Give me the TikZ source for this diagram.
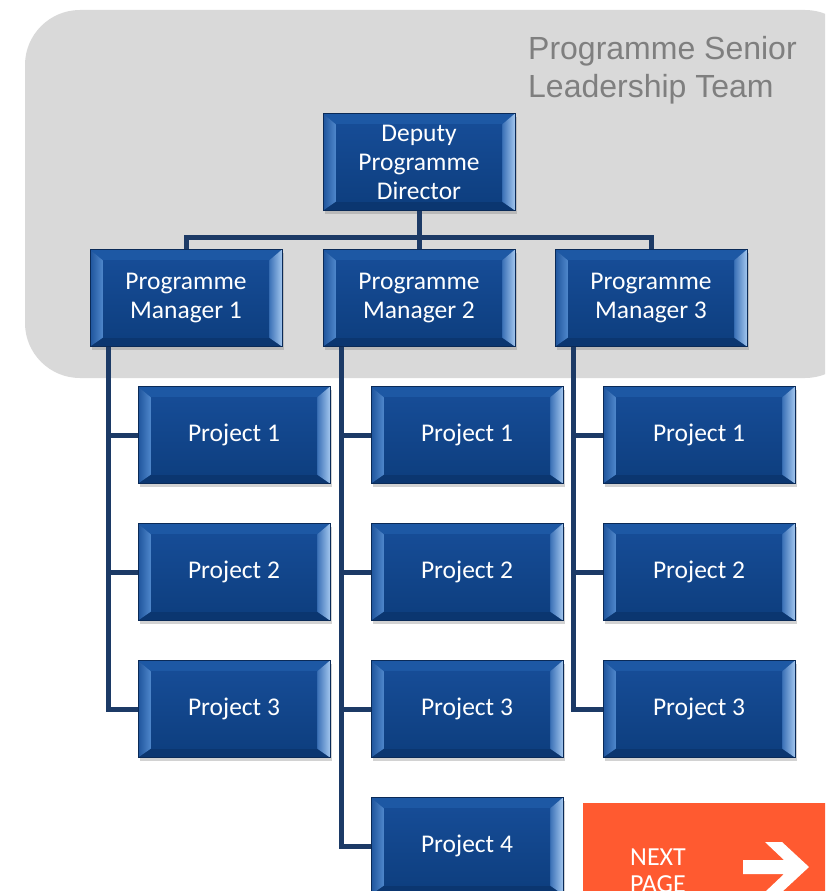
\documentclass[tikz,border=0pt]{standalone}
\usepackage{fontspec}
\usetikzlibrary{positioning,shadows}
\newfontfamily\boxfont{Carlito}
\newfontfamily\titlefont{Liberation Sans}

\definecolor{panelgray}{HTML}{D9D9D9}
\definecolor{titlegray}{HTML}{7F7F7F}
\definecolor{boxedge}{HTML}{0A2A57}
\definecolor{boxblue}{HTML}{114488}
\definecolor{facetop}{HTML}{164C96}
\definecolor{facebot}{HTML}{0E3F80}
\definecolor{bevtop}{HTML}{1D58A4}
\definecolor{bevbot}{HTML}{0B3670}
\definecolor{bevlout}{HTML}{1E549C}
\definecolor{bevlin}{HTML}{5088CC}
\definecolor{bevrin}{HTML}{3A70B6}
\definecolor{bevrout}{HTML}{A2C6EE}
\definecolor{linkblue}{HTML}{1C3A66}
\definecolor{nextorange}{HTML}{FF5A30}

\begin{document}
\begin{tikzpicture}[
x=1pt,y=-1pt,
unit/.style={
  draw=boxedge,
  line width=1pt,
  fill=boxblue,
  minimum width=192pt,
  minimum height=97pt,
  inner sep=0pt,
  align=center,
  text=white,
  font=\boxfont\fontsize{25.5}{29}\selectfont,
  drop shadow={shadow xshift=2pt,shadow yshift=-3pt,opacity=0.35},
  path picture={
    \path (path picture bounding box.north west) coordinate (bnw)
          (path picture bounding box.north east) coordinate (bne)
          (path picture bounding box.south west) coordinate (bsw)
          (path picture bounding box.south east) coordinate (bse);
    \path ([shift={(13pt,-11pt)}]bnw) coordinate (inw)
          ([shift={(-13pt,-11pt)}]bne) coordinate (ine)
          ([shift={(13pt,9pt)}]bsw) coordinate (isw)
          ([shift={(-13pt,9pt)}]bse) coordinate (ise);
    \fill[bevtop] (bnw) -- (bne) -- (ine) -- (inw) -- cycle;
    \fill[bevbot] (bsw) -- (bse) -- (ise) -- (isw) -- cycle;
    \shade[left color=bevlout,right color=bevlin] (bnw) -- (inw) -- (isw) -- (bsw) -- cycle;
    \shade[left color=bevrin,right color=bevrout] (bne) -- (ine) -- (ise) -- (bse) -- cycle;
    \shade[top color=facetop,bottom color=facebot] (inw) rectangle (ise);
  }
},
link/.style={
  draw=linkblue,
  line width=5pt
},
node distance=38pt and 40pt
]
\useasboundingbox (0,0) rectangle (825,891);
\clip (0,0) rectangle (825,891);
\fill[white] (0,0) rectangle (825,891);

% leadership panel
\fill[panelgray,rounded corners=55pt] (25,10) rectangle (860,378);
\node[anchor=north west,inner sep=0pt,align=left,text=titlegray,
  font=\titlefont\fontsize{32}{38.5}\selectfont] (slt) at (528,36)
  {Programme Senior\\Leadership Team};

% management
\node[unit] (dpd) at (419,162) {Deputy\\Programme\\Director};
\node[unit,below=of dpd] (pm2) {Programme\\Manager 2};
\node[unit,left=of pm2] (pm1) {Programme\\Manager 1};
\node[unit,right=39pt of pm2] (pm3) {Programme\\Manager 3};

\draw[link] (dpd.south) -- (pm2.north);
\draw[link] (dpd.south) -- ++(0,26) -| (pm1.north);
\draw[link] (dpd.south) -- ++(0,26) -| (pm3.north);

% projects
\foreach \col/\num in {1/3,2/4,3/3} {
  \node[unit,below=39pt of pm\col,xshift=48pt] (p\col1) {Project 1};
  \foreach \k [evaluate=\k as \j using int(\k-1)] in {2,...,\num}
    \node[unit,below=39pt of p\col\j] (p\col\k) {Project \k};
  \foreach \k in {1,...,\num}
    \draw[link] ([xshift=19pt]pm\col.south west) |- (p\col\k.west);
}

% next page button
\node[fill=nextorange,anchor=north west,inner sep=0pt,
  minimum width=260pt,minimum height=100pt] (next) at (583,803) {};
\node[anchor=north west,inner sep=0pt,align=left,text=white,
  font=\boxfont\fontsize{26}{27}\selectfont] (nexttext) at (630,849)
  {NEXT\\PAGE};
\fill[white] (743,860) -- (784,860) -- (765,842) -- (782,842) -- (809,867)
  -- (782,892) -- (765,892) -- (784,874) -- (743,874) -- cycle;
\end{tikzpicture}
\end{document}
